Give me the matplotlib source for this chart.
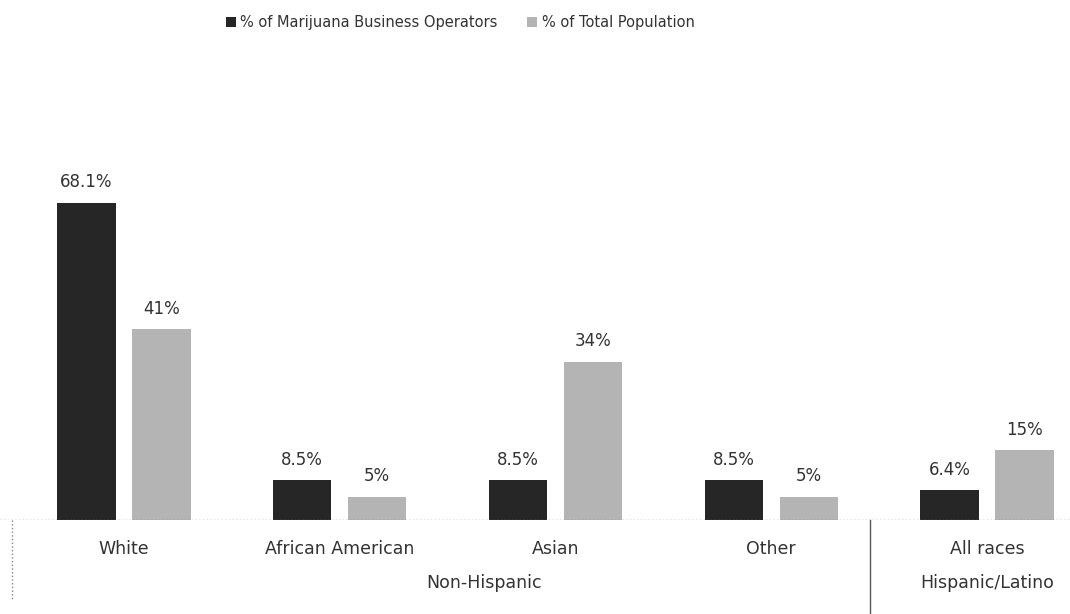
import numpy as np
import matplotlib.pyplot as plt

# valeurs
categories = ['White', 'African American', 'Asian', 'Other', 'All races']
operateurs = [68.1, 8.5, 8.5, 8.5, 6.4]
population = [41, 5, 34, 5, 15]
labels_op = ['68.1%', '8.5%', '8.5%', '8.5%', '6.4%']
labels_pop = ['41%', '5%', '34%', '5%', '15%']
groupes = ['Non-Hispanic', 'Hispanic/Latino']

plt.rcParams['font.family'] = ['Liberation Sans Narrow', 'DejaVu Sans']

fig = plt.figure(figsize=(10.7, 6.14), dpi=100)
ax = fig.add_axes([0, 0.153, 1, 0.75])

x = np.arange(len(categories))
w = 0.27
d = 0.174
b1 = ax.bar(x - d, operateurs, w, color='#262626', label='% of Marijuana Business Operators')
b2 = ax.bar(x + d, population, w, color='#b4b4b4', label='% of Total Population')

for i in range(len(categories)):
    ax.text(x[i] - d, operateurs[i] + 2.5, labels_op[i], ha='center', va='bottom', fontsize=12, color='#333333')
    ax.text(x[i] + d, population[i] + 2.5, labels_pop[i], ha='center', va='bottom', fontsize=12, color='#333333')

ax.set_xlim(-0.575, 4.385)
ax.set_ylim(0, 98.9)
ax.axis('off')
ax.axhline(0, color='#777777', lw=1, ls=':')

for i, c in enumerate(categories):
    ax.text(x[i], -6.2, c, ha='center', va='center', fontsize=12.5, color='#333333')
ax.text(1.67, -13.5, groupes[0], ha='center', va='center', fontsize=12.5, color='#333333')
ax.text(4, -13.5, groupes[1], ha='center', va='center', fontsize=12.5, color='#333333')

ax.plot([-0.52, -0.52], [0, -17], color='#888888', lw=1, ls=':', clip_on=False)
ax.plot([3.46, 3.46], [0, -20], color='#555555', lw=1, clip_on=False)

fig.legend(handles=[b1, b2], loc='upper center', bbox_to_anchor=(0.43, 0.997), ncol=2,
           frameon=False, fontsize=10.5, handlelength=0.7, handleheight=0.7,
           handletextpad=0.3, columnspacing=2.0, labelcolor='#333333')

fig.savefig('out.png')
